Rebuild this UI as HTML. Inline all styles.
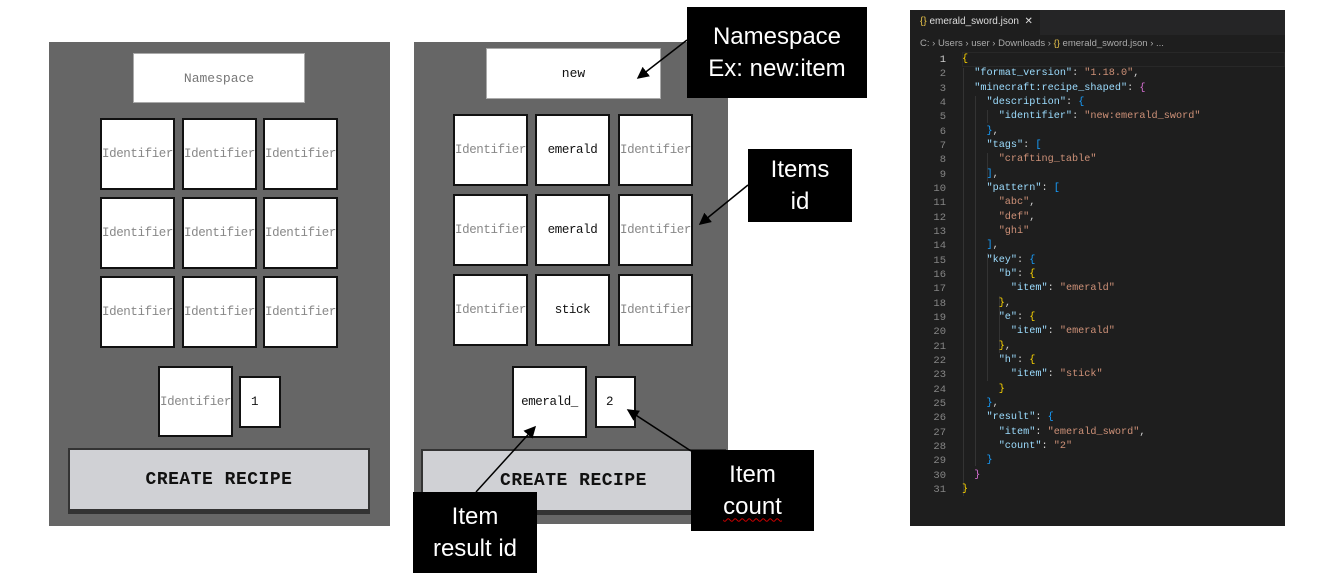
<!DOCTYPE html>
<html><head><meta charset="utf-8"><style>
body{margin:0;width:1320px;height:584px;background:#fff;position:relative;overflow:hidden;font-family:"Liberation Sans",sans-serif}
div{box-sizing:border-box}
.a{position:absolute}
.panel{position:absolute;background:#666}
.cell{position:absolute;background:#fff;border:2px solid #111;display:flex;align-items:center;justify-content:center;font-family:"Liberation Mono",monospace;font-size:12.5px;color:#888;letter-spacing:-0.4px;white-space:nowrap;overflow:hidden}
.cell.v{color:#111}
.ns{position:absolute;background:#fff;border:1px solid #aaa;display:flex;align-items:center;justify-content:center;font-family:"Liberation Mono",monospace;font-size:13px;color:#777}
.btn{position:absolute;background:#d0d1d5;border:2px solid #333;border-bottom:5px solid #333;display:flex;align-items:center;justify-content:center;font-family:"Liberation Mono",monospace;font-weight:bold;font-size:18px;color:#111;letter-spacing:0.5px}
.call{position:absolute;background:#000;color:#fff;font-size:24px;text-align:center;line-height:32px;display:flex;flex-direction:column;justify-content:center}
.ed{position:absolute;left:910px;top:10px;width:375px;height:516px;background:#1e1e1e;font-family:"Liberation Mono",monospace}
.ln{position:absolute;left:0;width:36px;text-align:right;font-size:10.5px;color:#858585}
.cd{position:absolute;left:52px;font-size:10.2px;color:#d4d4d4;white-space:pre}
.k{color:#9cdcfe}.s{color:#ce9178}.b1{color:#ffd700}.b2{color:#da70d6}.b3{color:#179fff}
</style></head><body>

<div class="panel" style="left:49px;top:42px;width:341px;height:484px"></div>
<div class="ns" style="left:133px;top:53px;width:172px;height:50px">Namespace</div>

<div class="panel" style="left:414px;top:42px;width:314px;height:482px"></div>
<div class="ns" style="left:486px;top:48px;width:175px;height:51px;color:#111">new</div>

<div id="cells"></div>

<div class="cell" style="left:158px;top:366px;width:75px;height:71px">Identifier</div>
<div class="cell v" style="left:239px;top:376px;width:42px;height:52px;justify-content:flex-start;padding-left:10px">1</div>
<div class="btn" style="left:68px;top:448px;width:302px;height:66px">CREATE RECIPE</div>

<div class="cell v" style="left:512px;top:366px;width:75px;height:72px">emerald_</div>
<div class="cell v" style="left:595px;top:376px;width:41px;height:52px;justify-content:flex-start;padding-left:9px">2</div>
<div class="btn" style="left:421px;top:449px;width:305px;height:66px">CREATE RECIPE</div>

<svg class="a" style="left:0;top:0" width="1320" height="584">
<defs><marker id="ah" markerWidth="8" markerHeight="8" refX="7" refY="4" orient="auto"><path d="M0,0 L8,4 L0,8z" fill="#000"/></marker></defs>
<g stroke="#000" stroke-width="1.5" marker-end="url(#ah)">
<line x1="687" y1="40" x2="638" y2="78"/>
<line x1="748" y1="185" x2="700" y2="224"/>
<line x1="476" y1="492" x2="535" y2="427"/>
<line x1="691" y1="451" x2="628" y2="410"/>
</g></svg>

<div class="call" style="left:687px;top:7px;width:180px;height:91px">Namespace<br>Ex: new:item</div>
<div class="call" style="left:748px;top:149px;width:104px;height:73px">Items<br>id</div>
<div class="call" style="left:413px;top:492px;width:124px;height:81px">Item<br>result id</div>
<div class="call" style="left:691px;top:450px;width:123px;height:81px">Item<br><span style="text-decoration:underline wavy #c00;text-underline-offset:4px;text-decoration-thickness:1px">count</span></div>

<div class="ed">
  <div class="a" style="left:0;top:0;width:375px;height:25px;background:#252526"></div>
  <div class="a" style="left:0;top:0;width:130px;height:25px;background:#1e1e1e;font-family:'Liberation Sans',sans-serif;font-size:10px;color:#ddd;padding:6px 0 0 10px"><span style="color:#e8c34a">{}</span> emerald_sword.json &nbsp;✕</div>
  <div class="a" style="left:10px;top:28px;font-family:'Liberation Sans',sans-serif;font-size:9.5px;color:#aaa;white-space:nowrap">C: › Users › user › Downloads › <span style="color:#e8c34a">{}</span> emerald_sword.json › ...</div>
  <div class="a" style="left:52px;top:42px;width:323px;height:15px;border:1px solid #282828"></div>
  <div id="guides"></div>
  <div id="code"></div>
</div>

<script>
const cellsLeft=["Identifier","Identifier","Identifier","Identifier","Identifier","Identifier","Identifier","Identifier","Identifier"];
const cellsMid=["Identifier","emerald","Identifier","Identifier","emerald","Identifier","Identifier","stick","Identifier"];
const host=document.getElementById('cells');
function grid(vals,xs,ys,w,h,prefix){
  vals.forEach((t,i)=>{
    const d=document.createElement('div');
    d.className='cell'+(t==='Identifier'?'':' v');
    
    
    d.style.left=xs[i%3]+'px';d.style.top=ys[Math.floor(i/3)]+'px';
    d.style.width=w+'px';d.style.height=h+'px';
    d.textContent=t;host.appendChild(d);
  });
}
grid(cellsLeft,[100,182,263],[118,197,276],75,72,'left');
grid(cellsMid,[453,535,618],[114,194,274],75,72,'middle');

const lines=[
'<span class="b1">{</span>',
'  <span class="k">"format_version"</span>: <span class="s">"1.18.0"</span>,',
'  <span class="k">"minecraft:recipe_shaped"</span>: <span class="b2">{</span>',
'    <span class="k">"description"</span>: <span class="b3">{</span>',
'      <span class="k">"identifier"</span>: <span class="s">"new:emerald_sword"</span>',
'    <span class="b3">}</span>,',
'    <span class="k">"tags"</span>: <span class="b3">[</span>',
'      <span class="s">"crafting_table"</span>',
'    <span class="b3">]</span>,',
'    <span class="k">"pattern"</span>: <span class="b3">[</span>',
'      <span class="s">"abc"</span>,',
'      <span class="s">"def"</span>,',
'      <span class="s">"ghi"</span>',
'    <span class="b3">]</span>,',
'    <span class="k">"key"</span>: <span class="b3">{</span>',
'      <span class="k">"b"</span>: <span class="b1">{</span>',
'        <span class="k">"item"</span>: <span class="s">"emerald"</span>',
'      <span class="b1">}</span>,',
'      <span class="k">"e"</span>: <span class="b1">{</span>',
'        <span class="k">"item"</span>: <span class="s">"emerald"</span>',
'      <span class="b1">}</span>,',
'      <span class="k">"h"</span>: <span class="b1">{</span>',
'        <span class="k">"item"</span>: <span class="s">"stick"</span>',
'      <span class="b1">}</span>',
'    <span class="b3">}</span>,',
'    <span class="k">"result"</span>: <span class="b3">{</span>',
'      <span class="k">"item"</span>: <span class="s">"emerald_sword"</span>,',
'      <span class="k">"count"</span>: <span class="s">"2"</span>',
'    <span class="b3">}</span>',
'  <span class="b2">}</span>',
'<span class="b1">}</span>'];
const code=document.getElementById('code');
lines.forEach((l,i)=>{
  const y=44+i*14.33;
  const n=document.createElement('div');n.className='ln';n.style.top=y+'px';n.textContent=i+1;
  if(i===0)n.style.color='#ccc';
  
  
  code.appendChild(n);
  const c=document.createElement('div');c.className='cd';c.style.top=y+'px';c.innerHTML=l;
  
  
  code.appendChild(c);
});
const gd=document.getElementById('guides');
[[53,58,486],[65,86,456],[77,100,113],[77,143,171],[77,243,371],[89,286,343]].forEach(g=>{
  const d=document.createElement('div');d.className='a';
  
  
  d.style.cssText='left:'+g[0]+'px;top:'+g[1]+'px;width:1px;height:'+(g[2]-g[1])+'px;background:#333';
  gd.appendChild(d);
});
</script>
</body></html>
